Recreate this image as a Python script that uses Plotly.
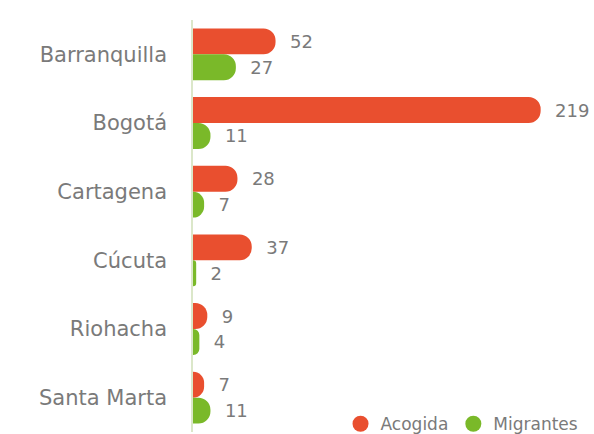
import plotly.graph_objects as go

cities = ["Barranquilla", "Bogotá", "Cartagena", "Cúcuta", "Riohacha", "Santa Marta"]
acogida = [52, 219, 28, 37, 9, 7]
migrantes = [27, 11, 7, 2, 4, 11]

RED = "#E94F2F"
GREEN = "#7AB929"
TXT = "#7a7a7a"
FONT = "DejaVu Sans"

fig = go.Figure()
for name, vals, col in [("Acogida", acogida, RED), ("Migrantes", migrantes, GREEN)]:
    fig.add_trace(go.Bar(
        y=cities, x=vals, name=name, orientation="h",
        marker=dict(color=col, cornerradius=13, line=dict(width=0)),
        texttemplate="  %{x}", textposition="outside", cliponaxis=False,
        textfont=dict(family=FONT, size=18, color=TXT),
        showlegend=False, hoverinfo="skip",
    ))
    fig.add_trace(go.Scatter(
        x=[None], y=[None], mode="markers", name=name,
        marker=dict(color=col, size=17, symbol="circle"),
    ))

fig.update_layout(
    width=594, height=434,
    margin=dict(l=193, r=20, t=20, b=2, autoexpand=False),
    paper_bgcolor="white", plot_bgcolor="white",
    barmode="group", bargap=0.244, bargroupgap=0,
    font=dict(family=FONT, color=TXT),
    xaxis=dict(range=[0, 240], visible=False, automargin=False),
    yaxis=dict(autorange="reversed", showline=True, linecolor="#dbe7c9", linewidth=1.5,
               showgrid=False, ticks="", ticklabelstandoff=20, automargin=False,
               tickfont=dict(family=FONT, size=21, color=TXT)),
    legend=dict(orientation="h", x=1.025, xanchor="right", y=0.019, yanchor="middle",
                font=dict(family=FONT, size=17, color=TXT), bgcolor="rgba(255,255,255,0)",
                itemwidth=30, tracegroupgap=0),
)

fig.write_html("out.html", config={"displayModeBar": False},
               post_script="document.body.style.margin='0';document.body.style.overflow='hidden';")
